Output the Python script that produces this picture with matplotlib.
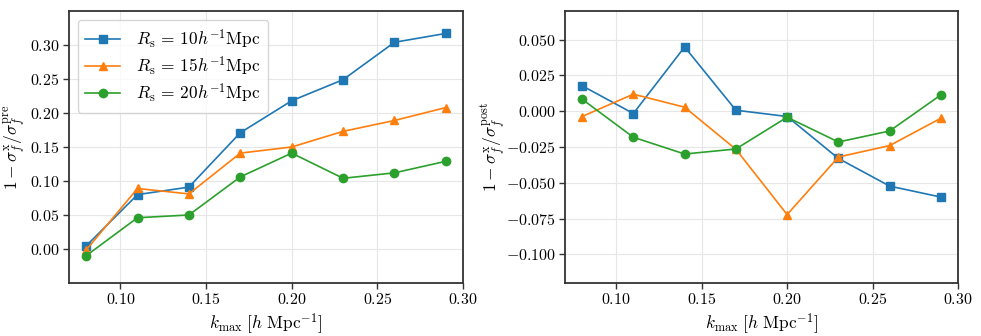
import numpy as np
import matplotlib
matplotlib.use("Agg")
import matplotlib.pyplot as plt

plt.rcParams['font.family'] = 'serif'
plt.rcParams['font.serif'] = ['cmr10', 'DejaVu Serif']
plt.rcParams['mathtext.fontset'] = 'cm'
plt.rcParams['axes.formatter.use_mathtext'] = True

kmax = [0.08, 0.11, 0.14, 0.17, 0.20, 0.23, 0.26, 0.29]

# 1 - sigma_x / sigma_pre
pre_r10 = [0.0045, 0.080, 0.091, 0.171, 0.218, 0.249, 0.304, 0.317]
pre_r15 = [-0.0015, 0.089, 0.081, 0.141, 0.150, 0.173, 0.189, 0.208]
pre_r20 = [-0.0099, 0.046, 0.050, 0.106, 0.141, 0.104, 0.112, 0.129]

# 1 - sigma_x / sigma_post
post_r10 = [0.0178, -0.0016, 0.0449, 0.0007, -0.0037, -0.033, -0.0523, -0.060]
post_r15 = [-0.0037, 0.0119, 0.0028, -0.0266, -0.0722, -0.032, -0.024, -0.0049]
post_r20 = [0.0084, -0.0182, -0.0299, -0.0264, -0.0042, -0.0215, -0.0138, 0.0114]

labels = [r'$R_{\rm s}\,=\,10h^{-1}{\rm Mpc}$',
          r'$R_{\rm s}\,=\,15h^{-1}{\rm Mpc}$',
          r'$R_{\rm s}\,=\,20h^{-1}{\rm Mpc}$']
colors = ['#1f77b4', '#ff7f0e', '#2ca02c']
markers = ['s', '^', 'o']

fig = plt.figure(figsize=(9.81, 3.36), dpi=100)
ax1 = fig.add_axes([69/981, 1-283/336, 394/981, 272/336])
ax2 = fig.add_axes([565/981, 1-283/336, 393/981, 272/336])

for ax, data in [(ax1, [pre_r10, pre_r15, pre_r20]), (ax2, [post_r10, post_r15, post_r20])]:
    for y, c, m, lab in zip(data, colors, markers, labels):
        ax.plot(kmax, y, color=c, marker=m, ms=6, lw=1.2, label=lab)
    ax.grid(True, color='#e6e6e6', lw=0.8)
    ax.set_axisbelow(True)
    ax.set_xlim(0.07, 0.30)
    ax.set_xticks([0.10, 0.15, 0.20, 0.25, 0.30])
    ax.set_xticklabels(['$0.10$', '$0.15$', '$0.20$', '$0.25$', '$0.30$'])
    for s in ax.spines.values():
        s.set_color('#333333')
        s.set_linewidth(1.3)
    ax.tick_params(labelsize=11.5, length=4, width=1, pad=2.5, color='#333333')
    ax.set_xlabel(r'$k_{\rm max}\ [h\ {\rm Mpc}^{-1}]$', fontsize=12.5, labelpad=3)

yt1 = [0.0, 0.05, 0.10, 0.15, 0.20, 0.25, 0.30]
ax1.set_ylim(-0.05, 0.35)
ax1.set_yticks(yt1)
ax1.set_yticklabels(['$%.2f$' % v for v in yt1])
ax1.set_ylabel(r'$1 - \sigma_f^{\rm x}/\sigma_f^{\rm pre}$', fontsize=12.5)
ax1.yaxis.set_label_coords(-0.104, 0.5)

yt2 = [-0.1, -0.075, -0.05, -0.025, 0.0, 0.025, 0.05]
ax2.set_ylim(-0.12, 0.07)
ax2.set_yticks(yt2)
ax2.set_yticklabels(['$%.3f$' % v for v in yt2])
ax2.set_ylabel(r'$1 - \sigma_f^{\rm x}/\sigma_f^{\rm post}$', fontsize=12.5)
ax2.yaxis.set_label_coords(-0.145, 0.5)

ax1.legend(loc='upper left', fontsize=12.5, frameon=True, framealpha=0.8,
           edgecolor='#cccccc', handlelength=2.0, handletextpad=0.9,
           borderpad=0.45, labelspacing=0.22)

fig.savefig('out.png', dpi=100)
